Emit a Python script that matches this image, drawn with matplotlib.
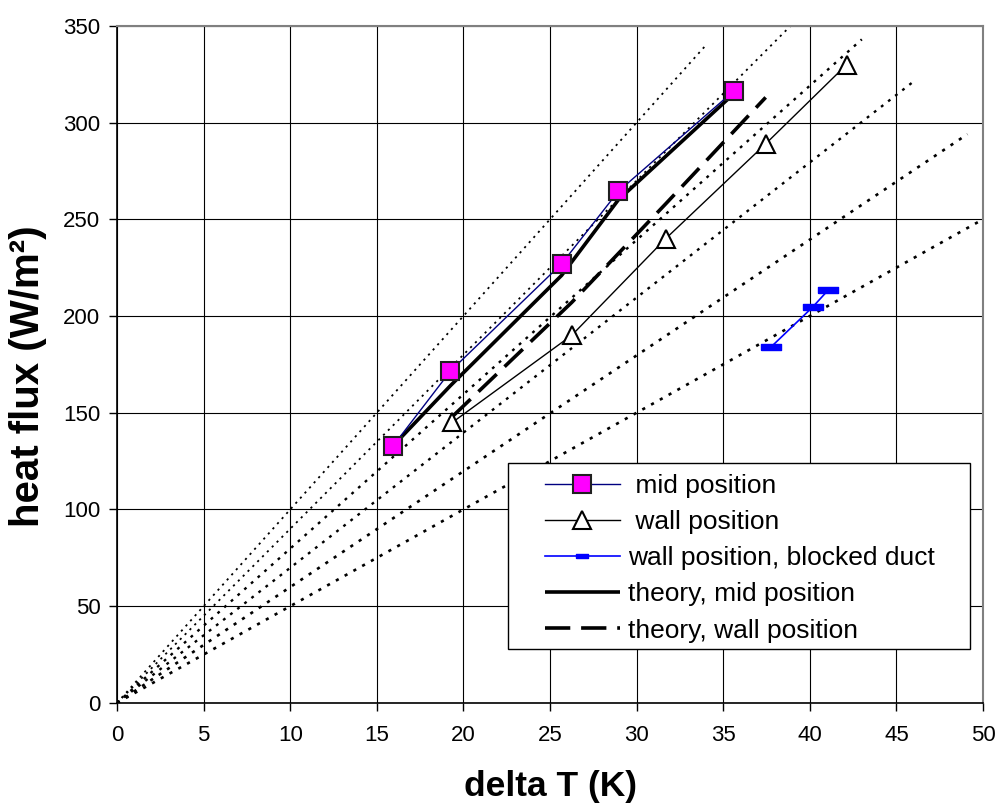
import matplotlib
matplotlib.use("Agg")
import matplotlib.pyplot as plt
from matplotlib.patches import Rectangle

plt.rcParams['font.family'] = ['Liberation Sans', 'DejaVu Sans']

# reference lines (dotted, from origin): end points
ref_end_x = [34.0, 39.0, 43.0, 46.1, 49.1, 49.8]
ref_end_y = [340, 351, 343, 322, 294, 249]
ref_lw = [1.3, 1.3, 1.7, 1.7, 1.9, 1.9]

# measured data
mid_x = [15.95, 19.25, 25.67, 28.94, 35.62]
mid_y = [133, 171.5, 227, 264.4, 316.4]

wall_x = [19.36, 26.25, 31.68, 37.45, 42.13]
wall_y = [145, 190, 240, 289, 330]

blocked_x = [37.76, 40.16, 41.07]
blocked_y = [184, 204.6, 213.5]

# theory
th_mid_x = [15.95, 19.25, 25.67, 28.94, 35.62]
th_mid_y = [133, 164, 221, 260, 315]

th_wall_x = [19.36, 26.25, 31.68, 37.45]
th_wall_y = [148, 207, 258, 313]

x_ticks = list(range(0, 51, 5))
y_ticks = list(range(0, 351, 50))

fig = plt.figure(figsize=(9.96, 8.07), dpi=100)
ax = fig.add_axes([0.1175, 0.129, 0.8695, 0.839])

for ex, ey, lw in zip(ref_end_x, ref_end_y, ref_lw):
    ax.plot([0, ex], [0, ey], color='black', lw=lw, linestyle=(0, (1.2, 2.6)),
            zorder=2)

bar = [(-1.5, -0.5), (1.5, -0.5), (1.5, 0.5), (-1.5, 0.5), (-1.5, -0.5)]

ax.plot(mid_x, mid_y, color='#000080', lw=1.0, marker='s', markersize=12.5,
        markerfacecolor='#FF00FF', markeredgecolor='#202020',
        markeredgewidth=1.5, label=' mid position', zorder=6)
ax.plot(wall_x, wall_y, color='black', lw=1.0, marker='^', markersize=13,
        markerfacecolor='white', markeredgecolor='black',
        markeredgewidth=1.5, label=' wall position', zorder=5)
ax.plot(blocked_x, blocked_y, color='#0000FF', lw=1.2, marker=bar,
        markersize=15, markerfacecolor='#0000FF', markeredgecolor='#0000FF',
        label='wall position, blocked duct', zorder=5)
ax.plot(th_mid_x, th_mid_y, color='black', lw=2.6, solid_capstyle='butt',
        label='theory, mid position', zorder=4)
ax.plot(th_wall_x, th_wall_y, color='black', lw=2.6, dashes=(7, 3),
        dash_capstyle='butt', label='theory, wall position', zorder=4)

ax.set_xlim(0, 50)
ax.set_ylim(0, 350)
ax.set_xticks(x_ticks)
ax.set_yticks(y_ticks)
ax.tick_params(axis='both', labelsize=16, direction='out', length=6,
               width=1, color='black')
ax.tick_params(axis='x', pad=10)
ax.tick_params(axis='y', pad=6)
ax.grid(True, color='black', lw=0.8)
ax.set_axisbelow(True)
for side in ['top', 'right']:
    ax.spines[side].set_color('#808080')
    ax.spines[side].set_linewidth(1.5)
for side in ['left', 'bottom']:
    ax.spines[side].set_color('black')
    ax.spines[side].set_linewidth(1.2)

ax.set_xlabel('delta T (K)', fontsize=25.5, fontweight='bold')
ax.xaxis.set_label_coords(0.5, -0.099)
ax.set_ylabel('heat flux (W/m²)', fontsize=29, fontweight='bold')
ax.yaxis.set_label_coords(-0.081, 0.483)

# legend frame drawn as a box, legend entries placed inside it
box = Rectangle((0.4515, 0.0798), 0.5335, 0.2747, transform=ax.transAxes,
                facecolor='white', edgecolor='black', lw=1.0, zorder=7)
ax.add_patch(box)
leg = ax.legend(loc='upper left', bbox_to_anchor=(0.494, 0.338),
                borderaxespad=0, fontsize=19, handlelength=2.85,
                labelspacing=0.46, handletextpad=0.3, borderpad=0.0,
                frameon=False)
leg.set_zorder(8)
leg.legend_handles[2].set_markersize(9)

fig.savefig('out.png', dpi=100)
